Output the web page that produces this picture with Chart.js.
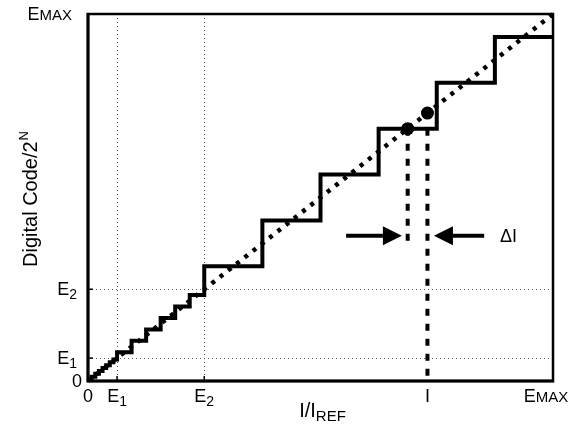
<!DOCTYPE html>
<html><head><meta charset="utf-8">
<script src="https://cdn.jsdelivr.net/npm/chart.js@4/dist/chart.umd.min.js"></script>
<style>html,body{margin:0;padding:0;background:#fff}#wrap{width:571px;height:431px}</style>
</head><body><div id="wrap"><canvas id="c" width="571" height="431"></canvas></div>
<script>
// ---- values ----
const E1 = 0.0625, E2 = 0.25, I_VAL = 0.73, EMAX = 1;
const xTickValues = [0, E1, E2, I_VAL, EMAX];
const xTickMain   = ["0", "E", "E", "I", "E"];
const xTickSub    = ["",  "1", "2", "",  "MAX"];
const yTickValues = [0, E1, E2, EMAX];
const yTickMain   = ["0", "E", "E", "E"];
const yTickSub    = ["",  "1", "2", "MAX"];
const gridValues  = [E1, E2];

// quantizer staircase (step start x, output level)
const stairX = [0, 0.0078125, 0.015625, 0.0234375, 0.03125, 0.0390625, 0.046875, 0.0546875,
                0.0625, 0.09375, 0.125, 0.15625, 0.1875, 0.21875,
                0.25, 0.375, 0.5, 0.625, 0.75, 0.875, 1];
const stairY = [0.00390625, 0.01171875, 0.01953125, 0.02734375, 0.03515625, 0.04296875, 0.05078125, 0.05859375,
                0.078125, 0.109375, 0.140625, 0.171875, 0.203125, 0.234375,
                0.3125, 0.4375, 0.5625, 0.6875, 0.8125, 0.9375, 0.9375];
const idealX = [0, 1];
const idealY = [0, 1];
const dashLeftX  = [0.6875, 0.6875];
const dashLeftY  = [0.6875, 0.375];
const dashRightX = [I_VAL, I_VAL];
const dashRightY = [0.6875, 0];
const dotX = [0.6875, I_VAL];
const dotY = [0.6875, I_VAL];
const arrowY = 0.396;
const leftArrowX  = [0.555, 0.675];   // tail, tip
const rightArrowX = [0.852, 0.744];   // tail, tip
const deltaLabelX = 0.886, deltaLabelY = 0.396, deltaLabel = "ΔI";

const pts = (xs, ys) => xs.map((x, i) => ({x, y: ys[i]}));
const FONT = '"Liberation Sans", Arial, sans-serif';

function drawSubText(ctx, main, sub, x, y, align, mainSize, subSize, subDrop) {
  ctx.font = mainSize + 'px ' + FONT;
  const w1 = ctx.measureText(main).width;
  ctx.font = subSize + 'px ' + FONT;
  const w2 = sub ? ctx.measureText(sub).width : 0;
  const tot = w1 + w2;
  let x0 = align === 'center' ? x - tot / 2 : (align === 'right' ? x - tot : x);
  ctx.textAlign = 'left';
  ctx.textBaseline = 'alphabetic';
  ctx.font = mainSize + 'px ' + FONT;
  ctx.fillText(main, x0, y);
  if (sub) { ctx.font = subSize + 'px ' + FONT; ctx.fillText(sub, x0 + w1, y + subDrop); }
}

const decor = {
  id: 'decor',
  beforeDatasetsDraw(chart) {
    const {ctx, chartArea: a, scales: {x, y}} = chart;
    ctx.save();
    ctx.strokeStyle = '#555'; ctx.lineWidth = 1; ctx.setLineDash([1, 3]);
    gridValues.forEach(v => {
      const px = Math.round(x.getPixelForValue(v)) + 0.5;
      ctx.beginPath(); ctx.moveTo(px, a.top); ctx.lineTo(px, a.bottom); ctx.stroke();
      const py = Math.round(y.getPixelForValue(v)) + 0.5;
      ctx.beginPath(); ctx.moveTo(a.left, py); ctx.lineTo(a.right, py); ctx.stroke();
    });
    ctx.restore();
  },
  afterDatasetsDraw(chart) {
    const {ctx, chartArea: a, scales: {x, y}} = chart;
    ctx.save();
    ctx.setLineDash([]);
    ctx.strokeStyle = '#000';
    ctx.lineWidth = 2.5;
    ctx.strokeRect(a.left, a.top, a.right - a.left, a.bottom - a.top);
    ctx.lineWidth = 3;
    ctx.beginPath(); ctx.moveTo(a.left, a.top - 1); ctx.lineTo(a.left, a.bottom); ctx.lineTo(a.right + 1, a.bottom); ctx.stroke();
    ctx.lineWidth = 1.5;
    gridValues.forEach(v => {
      const px = x.getPixelForValue(v);
      ctx.beginPath(); ctx.moveTo(px, a.bottom); ctx.lineTo(px, a.bottom - 5); ctx.stroke();
      const py = y.getPixelForValue(v);
      ctx.beginPath(); ctx.moveTo(a.left, py); ctx.lineTo(a.left + 5, py); ctx.stroke();
    });
    // arrows
    ctx.fillStyle = '#000'; ctx.lineWidth = 4; ctx.lineCap = 'butt';
    [leftArrowX, rightArrowX].forEach(ax => {
      const tail = x.getPixelForValue(ax[0]), tip = x.getPixelForValue(ax[1]);
      const py = y.getPixelForValue(arrowY);
      const dir = Math.sign(tip - tail), hl = 19, hw = 9.5;
      ctx.beginPath(); ctx.moveTo(tail, py); ctx.lineTo(tip - dir * hl, py); ctx.stroke();
      ctx.beginPath(); ctx.moveTo(tip, py); ctx.lineTo(tip - dir * hl, py - hw); ctx.lineTo(tip - dir * hl, py + hw); ctx.closePath(); ctx.fill();
    });
    ctx.font = '18px ' + FONT; ctx.textAlign = 'left'; ctx.textBaseline = 'middle';
    ctx.fillText(deltaLabel, x.getPixelForValue(deltaLabelX), y.getPixelForValue(deltaLabelY) + 1);
    // x tick labels
    xTickValues.forEach((v, i) => {
      let px = x.getPixelForValue(v);
      if (v === EMAX) px -= 7;
      const isMax = xTickSub[i] === 'MAX';
      drawSubText(ctx, xTickMain[i], xTickSub[i], px, a.bottom + 21, 'center',
                  18, isMax ? 15 : 14, isMax ? 0 : 4);
    });
    // y tick labels
    yTickValues.forEach((v, i) => {
      const py = y.getPixelForValue(v);
      const rx = v === 0 ? a.left - 6 : (v === EMAX ? a.left - 16 : a.left - 11);
      const isMax = yTickSub[i] === 'MAX';
      drawSubText(ctx, yTickMain[i], yTickSub[i], rx, py + 6, 'right',
                  18, isMax ? 15 : 14, isMax ? 0 : 4);
    });
    // x title
    drawSubText(ctx, 'I/I', 'REF', (a.left + a.right) / 2 + 2, a.bottom + 36, 'center', 20, 15, 4);
    // y title
    ctx.translate(37, (a.top + a.bottom) / 2 + 2);
    ctx.rotate(-Math.PI / 2);
    ctx.font = '20px ' + FONT;
    const t1 = 'Digital Code/2';
    const w1 = ctx.measureText(t1).width;
    ctx.font = '13px ' + FONT;
    const w2 = ctx.measureText('N').width;
    const x0 = -(w1 + w2) / 2;
    ctx.textAlign = 'left'; ctx.textBaseline = 'alphabetic';
    ctx.font = '20px ' + FONT; ctx.fillText(t1, x0, 0);
    ctx.font = '13px ' + FONT; ctx.fillText('N', x0 + w1 + 1, -9);
    ctx.restore();
  }
};

new Chart(document.getElementById('c'), {
  type: 'scatter',
  data: {
    datasets: [
      { data: pts(idealX, idealY), showLine: true, borderColor: '#000', borderWidth: 4.5,
        borderDash: [4, 6.5], pointRadius: 0, clip: false, order: 3 },
      { data: pts(stairX, stairY), showLine: true, stepped: 'before', borderColor: '#000', borderWidth: 4,
        pointRadius: 0, clip: false, order: 2, borderJoinStyle: 'miter' },
      { data: pts(dashLeftX, dashLeftY), showLine: true, borderColor: '#000', borderWidth: 4,
        borderDash: [7, 8], pointRadius: 0, clip: false, order: 1 },
      { data: pts(dashRightX, dashRightY), showLine: true, borderColor: '#000', borderWidth: 4,
        borderDash: [7, 8], pointRadius: 0, clip: false, order: 1 },
      { data: pts(dotX, dotY), showLine: false, pointRadius: 6.5, pointBackgroundColor: '#000',
        pointBorderColor: '#000', pointBorderWidth: 0, clip: false, order: 0 }
    ]
  },
  options: {
    responsive: false, animation: false, devicePixelRatio: 1,
    layout: { padding: { left: 88, right: 18, top: 14, bottom: 50 } },
    plugins: { legend: { display: false }, tooltip: { enabled: false } },
    scales: {
      x: { type: 'linear', min: 0, max: 1, display: false },
      y: { type: 'linear', min: 0, max: 1, display: false }
    }
  },
  plugins: [decor]
});
</script>
</body></html>
